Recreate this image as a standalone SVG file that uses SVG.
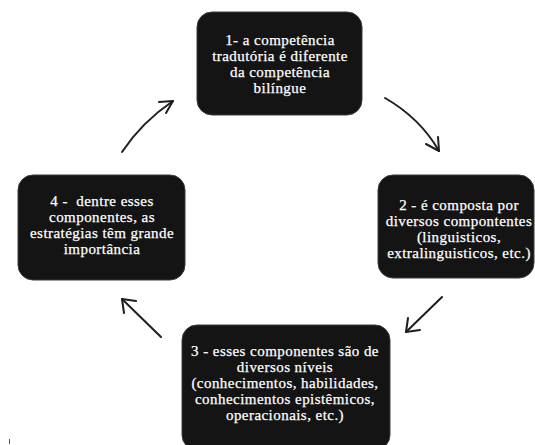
<svg xmlns="http://www.w3.org/2000/svg" width="535" height="445" viewBox="0 0 535 445">
<style>
.box{fill:#141414;stroke:#3a3a3a;stroke-width:1}
.t{font-family:"Liberation Serif","Times New Roman","DejaVu Serif",serif;font-size:15px;letter-spacing:0.45px;fill:#ffffff;stroke:#ffffff;stroke-width:0.25;text-anchor:middle}
.arr{fill:none;stroke:#1e1e1e;stroke-width:2;stroke-linecap:round;stroke-linejoin:round}
</style>
<rect width="535" height="445" fill="#ffffff"/>
<g id="node1">
<rect class="box" x="197" y="12" width="165" height="103" rx="15"/>
<text class="t" x="280" y="45">1- a competência</text>
<text class="t" x="280" y="61">tradutória é diferente</text>
<text class="t" x="280" y="77">da competência</text>
<text class="t" x="280" y="93">bilíngue</text>
</g>
<g id="node2">
<rect class="box" x="378" y="175" width="156" height="103" rx="15"/>
<text class="t" x="459" y="210">2 - é composta por</text>
<text class="t" x="459" y="226">diversos compontentes</text>
<text class="t" x="459" y="242">(linguisticos,</text>
<text class="t" x="459" y="258">extralinguisticos, etc.)</text>
</g>
<g id="node3">
<rect class="box" x="182" y="325" width="208" height="125" rx="15"/>
<text class="t" x="285" y="356">3 - esses componentes são de</text>
<text class="t" x="285" y="372">diversos níveis</text>
<text class="t" x="285" y="388">(conhecimentos, habilidades,</text>
<text class="t" x="285" y="404">conhecimentos epistêmicos,</text>
<text class="t" x="285" y="420">operacionais, etc.)</text>
</g>
<g id="node4">
<rect class="box" x="18" y="175" width="167" height="105" rx="15"/>
<text class="t" x="102" y="206" xml:space="preserve">4 -  dentre esses</text>
<text class="t" x="102" y="222">componentes, as</text>
<text class="t" x="102" y="238">estratégias têm grande</text>
<text class="t" x="102" y="254">importância</text>
</g>
<g id="connectors">
<path class="arr" d="M122,152 Q142,122 173,101"/>
<path class="arr" d="M159,102 L173,101 L166,113"/>
<path class="arr" d="M385,98 Q420,118 439,151"/>
<path class="arr" d="M426,144 L439,151 L438,137"/>
<path class="arr" d="M442,297 L406,332"/>
<path class="arr" d="M408,318 L406,332 L420,330"/>
<path class="arr" d="M161,337 L122,299"/>
<path class="arr" d="M124,313 L122,299 L136,301"/>
</g>
<rect x="9" y="439" width="1" height="5" fill="#555"/>
</svg>
